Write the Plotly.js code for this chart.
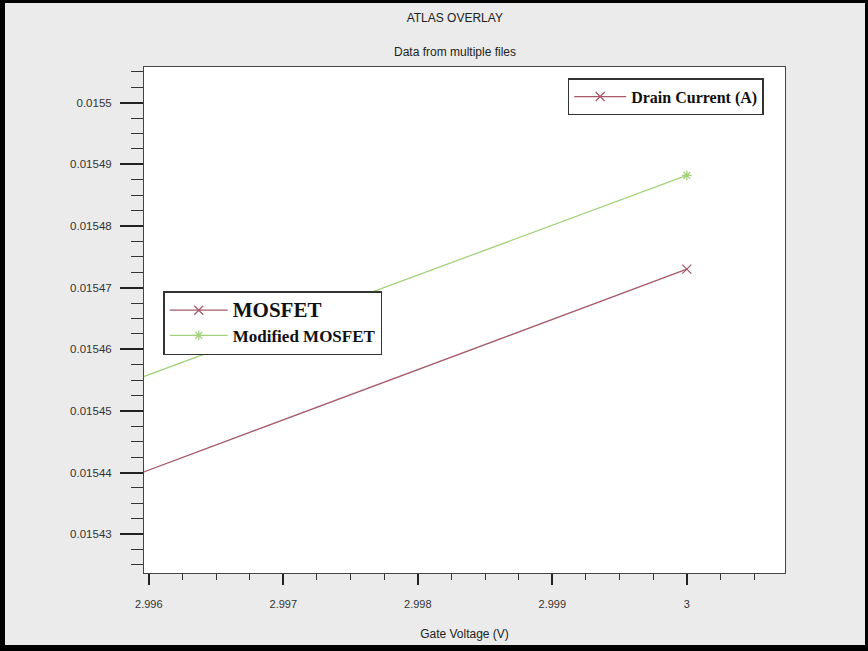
<!DOCTYPE html>
<html>
<head>
<meta charset="utf-8">
<script src="https://cdn.plot.ly/plotly-3.0.1.min.js"></script>
<style>
  html, body { margin: 0; padding: 0; background: #000; }
  #frame { position: absolute; left: 0; top: 0; width: 868px; height: 651px; background: #000; }
  #chart { position: absolute; left: 5px; top: 3px; width: 860px; height: 642px; }
</style>
</head>
<body>
<div id="frame"><div id="chart"></div></div>
<script>
// ---- data ----
const gateVoltage = [2.95, 3.0];
const mosfetCurrent = [0.0150655, 0.015473];
const modifiedCurrent = [0.0150842, 0.0154882];

const seriesNames = ["MOSFET", "Modified MOSFET"];
const quantityName = "Drain Current (A)";

const xTickVals = [2.996, 2.997, 2.998, 2.999, 3.0];
const xTickText = ["2.996", "2.997", "2.998", "2.999", "3"];
const yTickVals = [0.01543, 0.01544, 0.01545, 0.01546, 0.01547, 0.01548, 0.01549, 0.0155];
const yTickText = ["0.01543", "0.01544", "0.01545", "0.01546", "0.01547", "0.01548", "0.01549", "0.0155"];

const chartTitle = "ATLAS OVERLAY";
const chartSubtitle = "Data from multiple files";
const xTitle = "Gate Voltage (V)";

// ---- styles ----
const redCol = "#a65a6a";
const greenCol = "#a3d27c";
const serif = "Liberation Serif, Times New Roman, serif";
const sans = "Liberation Sans, Arial, sans-serif";

const traces = [
  {
    x: [null], y: [null], type: "scatter", mode: "lines+markers",
    name: "<b>" + quantityName + "</b>",
    line: {color: redCol, width: 1.3},
    marker: {symbol: "x-thin-open", size: 9, color: redCol, line: {color: redCol, width: 1.3}},
    legend: "legend"
  },
  {
    x: gateVoltage, y: mosfetCurrent, type: "scatter", mode: "lines+markers",
    name: "<b><span style='font-size:21px'>" + seriesNames[0] + "</span></b>",
    line: {color: redCol, width: 1.3},
    marker: {symbol: "x-thin-open", size: 9, color: redCol, line: {color: redCol, width: 1.3}},
    legend: "legend2"
  },
  {
    x: gateVoltage, y: modifiedCurrent, type: "scatter", mode: "lines+markers",
    name: "<b>" + seriesNames[1] + "</b>",
    line: {color: greenCol, width: 1.3},
    marker: {symbol: "asterisk-open", size: 8, color: greenCol, line: {color: greenCol, width: 1.3}},
    legend: "legend2"
  }
];

const layout = {
  width: 860, height: 642,
  paper_bgcolor: "#ebebeb",
  plot_bgcolor: "#ffffff",
  margin: {l: 139, r: 80, t: 64, b: 72},
  font: {family: sans, size: 11, color: "#333"},
  showlegend: true,
  title: {
    text: chartTitle, font: {family: sans, size: 12, color: "#222"},
    x: 0.523, xanchor: "center", y: 1 - 15 / 642, yanchor: "middle", xref: "container", yref: "container"
  },
  annotations: [{
    text: chartSubtitle, showarrow: false, xref: "paper", yref: "paper",
    x: 0.485, y: 1 + (64 - 49) / 506, xanchor: "center", yanchor: "middle",
    font: {family: sans, size: 12, color: "#222"}
  }],
  xaxis: {
    range: [2.995964, 3.00073],
    tickmode: "array", tickvals: xTickVals, ticktext: xTickText,
    ticks: "outside", ticklen: 11, tickwidth: 2, tickcolor: "#222",
    minor: {dtick: 0.00025, tick0: 2.996, ticks: "outside", ticklen: 6, tickwidth: 1, tickcolor: "#333", showgrid: false},
    showgrid: false, zeroline: false,
    showline: true, linecolor: "#444", linewidth: 1, mirror: true,
    ticklabelstandoff: 10,
    tickfont: {family: sans, size: 11, color: "#333"},
    title: {text: xTitle, font: {family: sans, size: 12, color: "#222"}, standoff: 20}
  },
  yaxis: {
    range: [0.0154237, 0.0155058],
    tickmode: "array", tickvals: yTickVals, ticktext: yTickText,
    ticks: "outside", ticklen: 23, tickwidth: 2, tickcolor: "#222",
    minor: {dtick: 0.0000025, tick0: 0.01543, ticks: "outside", ticklen: 12, tickwidth: 1, tickcolor: "#333", showgrid: false},
    showgrid: false, zeroline: false,
    showline: true, linecolor: "#444", linewidth: 1, mirror: true,
    ticklabelstandoff: 6,
    tickfont: {family: sans, size: 11.5, color: "#333"}
  },
  legend: {
    x: 0.661, y: 0.978, xanchor: "left", yanchor: "top",
    bgcolor: "#ffffff", bordercolor: "#333", borderwidth: 1.5,
    font: {family: serif, size: 16, color: "#111"},
    itemwidth: 52, itemclick: false
  },
  legend2: {
    x: 0.03, y: 0.557, xanchor: "left", yanchor: "top",
    bgcolor: "#ffffff", bordercolor: "#333", borderwidth: 1.5,
    font: {family: serif, size: 17, color: "#111"},
    itemwidth: 58, tracegroupgap: 0, itemclick: false
  }
};

Plotly.newPlot("chart", traces, layout, {displayModeBar: false, staticPlot: true});
</script>
</body>
</html>
